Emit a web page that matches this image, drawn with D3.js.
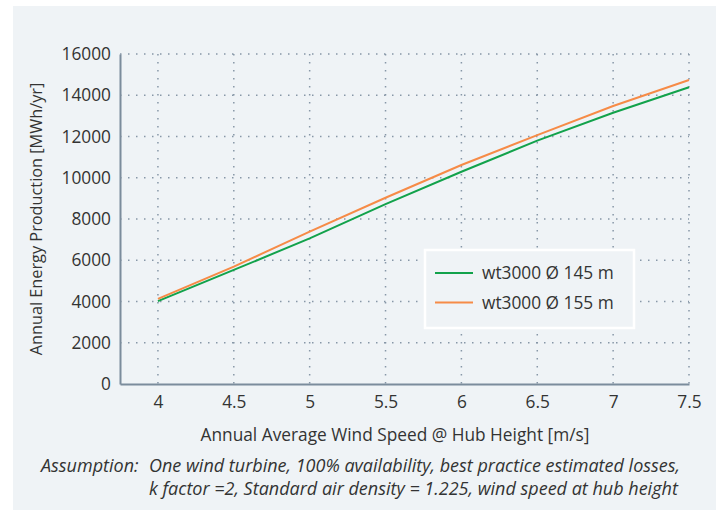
<!DOCTYPE html>
<head>
<meta charset="utf-8">
<style>
body { margin: 0; background: #fff; }
text { font-family: "Open Sans", "Noto Sans", sans-serif; fill: #333; }
</style>
</head>
<body>
<script src="https://d3js.org/d3.v7.min.js"></script>
<script>
// wind speed (m/s) and annual energy production (MWh/yr)
var speeds = [4, 4.5, 5, 5.5, 6, 6.5, 7, 7.5];
var aep145 = [4020, 5530, 7060, 8720, 10290, 11800, 13150, 14390];
var aep155 = [4130, 5690, 7390, 9030, 10620, 12070, 13480, 14740];
var seriesNames = ["wt3000 Ø 145 m", "wt3000 Ø 155 m"];
var xTicks = [4, 4.5, 5, 5.5, 6, 6.5, 7, 7.5];
var yTicks = [0, 2000, 4000, 6000, 8000, 10000, 12000, 14000, 16000];

var width = 721, height = 510;
var pLeft = 120, pRight = 689, pTop = 54, pBottom = 384;
var colors = ["#12a24b", "#f68b47"];
var fs = "17.3px";

var svg = d3.select("body").append("svg")
    .attr("width", width)
    .attr("height", height);

svg.append("rect")
    .attr("x", 13).attr("y", 6)
    .attr("width", 703).attr("height", 504)
    .attr("fill", "#eff3f6");

var x = d3.scaleLinear().domain([3.75, 7.5]).range([pLeft, pRight]);
var y = d3.scaleLinear().domain([0, 16000]).range([pBottom, pTop]);

// dotted grid
svg.append("g").selectAll("line").data(yTicks.slice(1)).enter().append("line")
    .attr("x1", pLeft).attr("x2", pRight)
    .attr("y1", function (d) { return y(d); })
    .attr("y2", function (d) { return y(d); })
    .attr("stroke", "#8797a7")
    .attr("stroke-width", 1.5)
    .attr("stroke-dasharray", "1.5,6.5");
svg.append("g").selectAll("line").data(xTicks).enter().append("line")
    .attr("y1", pTop).attr("y2", pBottom)
    .attr("x1", function (d) { return x(d); })
    .attr("x2", function (d) { return x(d); })
    .attr("stroke", "#8797a7")
    .attr("stroke-width", 1.5)
    .attr("stroke-dasharray", "1.5,6.5");

// axes
var xAxis = svg.append("g")
    .attr("transform", "translate(0," + pBottom + ")")
    .call(d3.axisBottom(x).tickValues(xTicks).tickSize(0).tickPadding(12).tickFormat(d3.format("")));
var yAxis = svg.append("g")
    .attr("transform", "translate(" + pLeft + ",0)")
    .call(d3.axisLeft(y).tickValues(yTicks).tickSize(0).tickPadding(9).tickFormat(d3.format("d")));
[xAxis, yAxis].forEach(function (a) {
    a.select(".domain").attr("stroke", "#7b8c9c").attr("stroke-width", 2);
    a.selectAll("text").style("font-size", fs).attr("fill", "#333");
});

// lines
var line = d3.line()
    .x(function (d, i) { return x(speeds[i]); })
    .y(function (d) { return y(d); });
[aep145, aep155].forEach(function (s, i) {
    svg.append("path")
        .datum(s)
        .attr("d", line)
        .attr("fill", "none")
        .attr("stroke", colors[i])
        .attr("stroke-width", 2);
});

// legend
svg.append("rect")
    .attr("x", 425).attr("y", 250)
    .attr("width", 209).attr("height", 78)
    .attr("fill", "#eff3f6")
    .attr("stroke", "#fff")
    .attr("stroke-width", 2.5);
seriesNames.forEach(function (n, i) {
    var ly = 273 + i * 29.5;
    svg.append("line")
        .attr("x1", 435).attr("x2", 473)
        .attr("y1", ly).attr("y2", ly)
        .attr("stroke", colors[i]).attr("stroke-width", 2);
    svg.append("text")
        .attr("x", 482).attr("y", ly + 6)
        .style("font-size", fs)
        .text(n);
});

// titles
svg.append("text")
    .attr("transform", "translate(42,219) rotate(-90)")
    .attr("text-anchor", "middle")
    .style("font-size", "16.3px")
    .text("Annual Energy Production [MWh/yr]");
svg.append("text")
    .attr("x", 395).attr("y", 441)
    .attr("text-anchor", "middle")
    .style("font-size", fs)
    .text("Annual Average Wind Speed @ Hub Height [m/s]");

// note
var note = svg.append("g").style("font-style", "italic").style("font-size", "18px");
note.append("text").attr("x", 41).attr("y", 472).text("Assumption:");
note.append("text").attr("x", 149).attr("y", 472)
    .text("One wind turbine, 100% availability, best practice estimated losses,");
note.append("text").attr("x", 149).attr("y", 495)
    .text("k factor =2, Standard air density = 1.225, wind speed at hub height");
</script>
</body>
